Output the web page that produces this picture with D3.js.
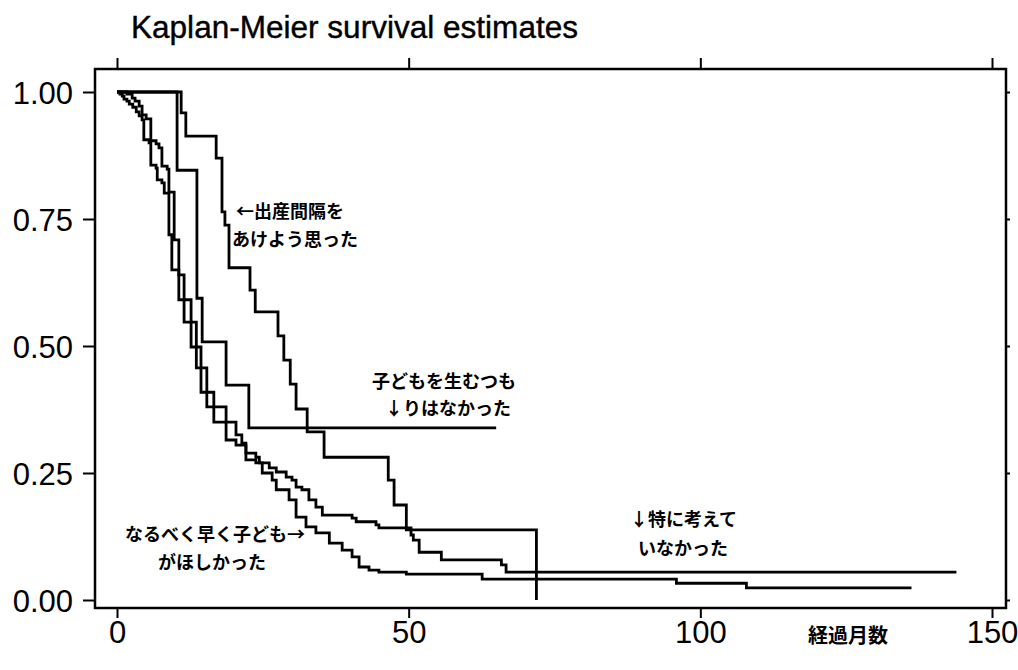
<!DOCTYPE html>
<html>
<head>
<meta charset="utf-8">
<script src="https://cdn.jsdelivr.net/npm/d3@7"></script>
<style>
  body { margin: 0; background: #fff; }
  .tick text { font-family: "Liberation Sans", Arial, sans-serif; font-size: 31px; fill: #000; }
  .jp { font-family: "Noto Sans CJK JP", sans-serif; font-weight: 700; font-size: 18px; fill: #000; }
</style>
</head>
<body>
<div id="chart"></div>
<script>
// Kaplan-Meier step points: time (months) and survival after each drop
const spacingTimes = [0, 11.0, 11.8, 17.0, 18.0, 18.5, 19.2, 22.8, 23.7, 27.6, 28.6, 29.7, 30.7, 32.6, 35.5, 46.5, 47.5, 49.6, 71.9];
const spacingSurv  = [1, 0.959, 0.913, 0.870, 0.764, 0.738, 0.654, 0.610, 0.567, 0.520, 0.472, 0.425, 0.376, 0.331, 0.281, 0.236, 0.187, 0.138, 0];
const spacingEnd = 71.9;

const noIntentTimes = [0, 10.3, 13.7, 14.6, 18.7, 22.6];
const noIntentSurv  = [1, 0.846, 0.594, 0.508, 0.423, 0.339];
const noIntentEnd = 65.0;

const soonTimes = [0, 0.5, 0.9, 1.2, 1.7, 2.1, 2.7, 3.3, 3.8, 4.3, 4.6, 5.5, 5.8, 6.7, 6.9, 7.7, 8.1, 8.9, 9.4, 10.6, 11.5, 12.7, 13.6, 14.4, 15.4, 16.6, 18.7, 20.4, 22.1, 23.8, 24.9, 26.6, 27.3, 29.5, 30.7, 32.4, 34.1, 36.4, 38.6, 40.3, 41.5, 43.2, 44.9, 49.6, 62.6, 95.9, 107.9];
const soonSurv  = [1, 0.996, 0.992, 0.986, 0.982, 0.976, 0.970, 0.961, 0.953, 0.945, 0.906, 0.900, 0.856, 0.850, 0.827, 0.821, 0.801, 0.719, 0.650, 0.591, 0.547, 0.498, 0.457, 0.409, 0.380, 0.350, 0.315, 0.305, 0.276, 0.270, 0.250, 0.236, 0.217, 0.197, 0.163, 0.144, 0.132, 0.112, 0.098, 0.085, 0.065, 0.059, 0.055, 0.051, 0.041, 0.033, 0.024];
const soonEnd = 136.2;

const notThoughtTimes = [0, 1.7, 2.6, 3.1, 3.8, 4.3, 5.0, 5.8, 6.7, 7.2, 7.7, 8.6, 8.9, 9.8, 10.6, 11.5, 12.7, 13.6, 14.4, 15.4, 16.6, 18.7, 20.4, 21.4, 22.1, 23.8, 24.4, 26.1, 27.3, 29.0, 30.0, 30.7, 31.7, 32.9, 34.1, 35.2, 40.3, 41.0, 44.4, 44.9, 50.4, 50.8, 51.8, 55.6, 65.9, 66.7];
const notThoughtSurv  = [1, 0.996, 0.988, 0.982, 0.972, 0.955, 0.947, 0.904, 0.898, 0.890, 0.854, 0.848, 0.803, 0.709, 0.640, 0.591, 0.547, 0.498, 0.457, 0.409, 0.380, 0.350, 0.325, 0.309, 0.289, 0.281, 0.270, 0.260, 0.252, 0.242, 0.236, 0.222, 0.217, 0.197, 0.183, 0.167, 0.161, 0.154, 0.148, 0.142, 0.128, 0.118, 0.094, 0.079, 0.069, 0.055];
const notThoughtEnd = 143.9;

const xTicks = [0, 50, 100, 150];
const yTicks = [0, 0.25, 0.5, 0.75, 1];

const W = 1018, H = 670;
const box = { left: 95, top: 69, right: 1006, bottom: 608 };

const svg = d3.select("#chart").append("svg")
  .attr("width", W).attr("height", H);

const x = d3.scaleLinear().domain([0, 150]).range([117, 992]);
const y = d3.scaleLinear().domain([0, 1]).range([600, 92]);

// title
svg.append("text")
  .attr("x", 131).attr("y", 38)
  .attr("textLength", 447).attr("lengthAdjust", "spacingAndGlyphs")
  .style("font-family", "'Liberation Sans Narrow', 'Liberation Sans', Arial, sans-serif")
  .style("font-size", "31px")
  .style("stroke", "#000").style("stroke-width", 0.4)
  .text("Kaplan-Meier survival estimates");

// frame
svg.append("rect")
  .attr("x", box.left).attr("y", box.top)
  .attr("width", box.right - box.left).attr("height", box.bottom - box.top)
  .attr("fill", "none").attr("stroke", "#000").attr("stroke-width", 2.5);

// axes
const yAxis = svg.append("g").attr("transform", `translate(${box.left},0)`)
  .call(d3.axisLeft(y).tickValues(yTicks).tickFormat(d3.format(".2f")).tickSize(12).tickPadding(10));
svg.append("g").attr("transform", `translate(0,${box.bottom})`)
  .call(d3.axisBottom(x).tickValues(xTicks).tickFormat(d3.format("d")).tickSize(10).tickPadding(3));
svg.append("g").attr("transform", `translate(0,${box.top})`)
  .call(d3.axisTop(x).tickValues(xTicks).tickFormat("").tickSize(11));
svg.append("g").attr("transform", `translate(${box.right},0)`)
  .call(d3.axisRight(y).tickValues(yTicks).tickFormat("").tickSize(4));
svg.selectAll(".domain").remove();
svg.selectAll(".tick line").attr("stroke", "#000").attr("stroke-width", 2);
yAxis.selectAll("text").attr("dy", "0.36em");

// curves
const line = d3.line()
  .x((d) => x(d[0]))
  .y((d) => y(d[1]))
  .curve(d3.curveStepAfter);

function steps(times, surv, end) {
  const pts = times.map((t, i) => [t, surv[i]]);
  const last = pts[pts.length - 1];
  if (end > last[0]) pts.push([end, last[1]]);
  return pts;
}

const series = [
  steps(spacingTimes, spacingSurv, spacingEnd),
  steps(noIntentTimes, noIntentSurv, noIntentEnd),
  steps(soonTimes, soonSurv, soonEnd),
  steps(notThoughtTimes, notThoughtSurv, notThoughtEnd),
];

series.forEach((pts) => {
  svg.append("path")
    .datum(pts)
    .attr("fill", "none")
    .attr("stroke", "#000")
    .attr("stroke-width", 2.8)
    .attr("d", line);
});

// annotations
const notes = [
  ["←出産間隔を", 236, 212],
  ["あけよう思った", 232, 240],
  ["子どもを生むつも", 372, 382],
  ["↓りはなかった", 385, 409],
  ["なるべく早く子ども→", 125, 535],
  ["がほしかった", 158, 563],
  ["↓特に考えて", 630, 520],
  ["いなかった", 638, 549],
];
svg.selectAll("text.jp")
  .data(notes)
  .enter()
  .append("text")
  .attr("class", "jp")
  .attr("x", (d) => d[1])
  .attr("y", (d) => d[2])
  .attr("dy", "0.35em")
  .text((d) => d[0]);

svg.append("text")
  .attr("class", "jp")
  .attr("x", 848).attr("y", 636).attr("dy", "0.35em")
  .attr("text-anchor", "middle")
  .style("font-size", "20px")
  .text("経過月数");
</script>
</body>
</html>
